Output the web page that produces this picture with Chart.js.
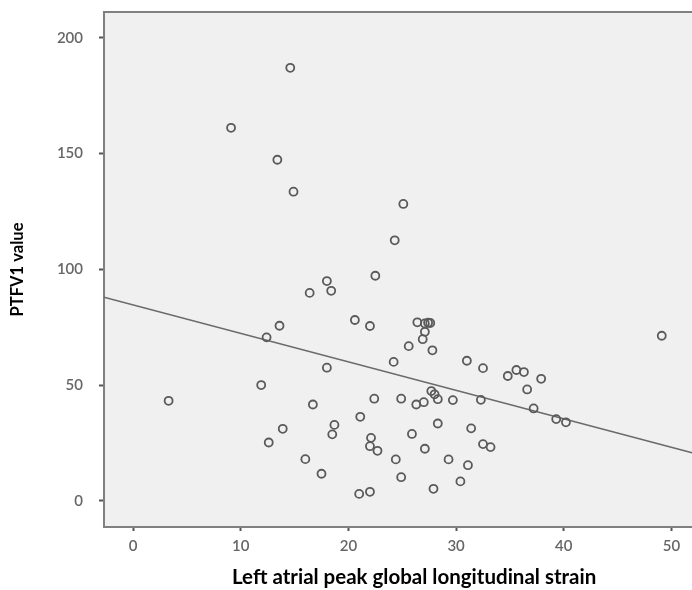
<!DOCTYPE html>
<html>
<head>
<meta charset="utf-8">
<script src="https://cdn.jsdelivr.net/npm/chart.js@4/dist/chart.umd.min.js"></script>
<style>
  html, body { margin: 0; padding: 0; background: #ffffff; overflow: hidden; }
  #wrap { width: 730px; height: 590px; }
</style>
</head>
<body>
<div id="wrap"><canvas id="c" width="730" height="590"></canvas></div>
<script>
// Scatter data: left atrial peak global longitudinal strain (x) vs PTFV1 value (y)
const strainValues = [
  3.3, 9.1, 11.9, 12.4, 12.6, 13.4, 13.6, 13.9, 14.6, 14.9,
  16.0, 16.4, 16.7, 17.5, 18.0, 18.0, 18.4, 18.5, 18.7, 20.6,
  21.0, 21.1, 22.0, 22.0, 22.0, 22.1, 22.4, 22.5, 22.7, 24.2,
  24.3, 24.4, 24.9, 24.9, 25.1, 25.6, 25.9, 26.3, 26.4, 26.9,
  27.0, 27.1, 27.1, 27.1, 27.4, 27.6, 27.7, 27.8, 27.9, 28.0,
  28.3, 28.3, 29.3, 29.7, 30.4, 31.0, 31.1, 31.4, 32.3, 32.5,
  32.5, 33.2, 34.8, 35.6, 36.3, 36.6, 37.2, 37.9, 39.3, 40.2,
  49.1
];
const ptfv1Values = [
  43.2, 161.1, 50.0, 70.6, 25.2, 147.3, 75.6, 31.1, 187.0, 133.5,
  18.0, 89.8, 41.6, 11.7, 94.9, 57.5, 90.7, 28.7, 32.8, 78.1,
  3.0, 36.3, 75.5, 3.9, 23.6, 27.2, 44.1, 97.2, 21.6, 60.0,
  112.5, 17.9, 44.1, 10.2, 128.2, 66.8, 28.9, 41.6, 77.1, 69.8,
  42.6, 73.0, 22.5, 76.6, 76.9, 76.8, 47.4, 65.0, 5.2, 46.0,
  43.9, 33.4, 17.9, 43.5, 8.4, 60.5, 15.4, 31.3, 43.6, 57.3,
  24.5, 23.2, 53.9, 56.5, 55.6, 48.1, 39.9, 52.7, 35.3, 33.9,
  71.3
];
// Fit line, read at the two ends of the x range
const fitLineX = [-2.7, 54.9];
const fitLineY = [87.9, 17.1];

const xTicks = [0, 10, 20, 30, 40, 50];
const yTicks = [0, 50, 100, 150, 200];
const xTitle = 'Left atrial peak global longitudinal strain';
const yTitle = 'PTFV1 value';

const points = strainValues.map((x, i) => ({ x: x, y: ptfv1Values[i] }));
const fitPoints = fitLineX.map((x, i) => ({ x: x, y: fitLineY[i] }));

const frameColor = '#808080';

const plotBg = {
  id: 'plotBg',
  beforeDraw(chart) {
    const a = chart.chartArea, ctx = chart.ctx;
    ctx.save();
    ctx.fillStyle = '#f0f0f0';
    ctx.fillRect(a.left, a.top, a.right - a.left, a.bottom - a.top);
    ctx.restore();
  },
  afterDatasetsDraw(chart) {
    const a = chart.chartArea, ctx = chart.ctx;
    ctx.save();
    ctx.strokeStyle = frameColor;
    ctx.lineWidth = 2;
    ctx.beginPath();
    ctx.moveTo(a.left, a.top);
    ctx.lineTo(a.right, a.top);
    ctx.lineTo(a.right, a.bottom);
    ctx.stroke();
    ctx.restore();
  }
};

const tickFont = { family: 'Lato, "Open Sans", sans-serif', size: 15, weight: '600' };
const xTitleFont = { family: 'Lato, "Open Sans", sans-serif', size: 20.5, weight: 'bold' };
const yTitleFont = { family: 'Lato, "Open Sans", sans-serif', size: 16.6, weight: 'bold' };

new Chart(document.getElementById('c'), {
  type: 'scatter',
  data: {
    datasets: [
      {
        type: 'line',
        data: fitPoints,
        borderColor: '#6a6a6a',
        borderWidth: 1.6,
        pointRadius: 0,
        fill: false,
        tension: 0,
        order: 2
      },
      {
        type: 'scatter',
        data: points,
        pointStyle: 'circle',
        pointRadius: 4,
        pointBorderWidth: 1.8,
        borderColor: '#5a5a5a',
        backgroundColor: 'rgba(0,0,0,0)',
        pointBackgroundColor: 'rgba(0,0,0,0)',
        order: 1
      }
    ]
  },
  options: {
    responsive: false,
    animation: false,
    layout: { padding: { left: 0, right: 4, top: 12, bottom: 0 } },
    plugins: { legend: { display: false }, tooltip: { enabled: false } },
    scales: {
      x: {
        type: 'linear',
        min: -2.7,
        max: 54.9,
        afterBuildTicks: (s) => { s.ticks = xTicks.map(v => ({ value: v })); },
        afterFit: (s) => { s.height = 63; s.paddingLeft = 0; s.paddingRight = 0; },
        border: { display: true, color: frameColor, width: 2 },
        grid: { drawOnChartArea: false, drawTicks: true, tickLength: 4, tickWidth: 2, tickColor: '#555' },
        ticks: { font: tickFont, color: '#666', padding: 6, maxRotation: 0 },
        title: { display: true, text: xTitle, font: xTitleFont, color: '#000', padding: { top: 0, bottom: 0 } }
      },
      y: {
        type: 'linear',
        min: -11.3,
        max: 211.1,
        afterBuildTicks: (s) => { s.ticks = yTicks.map(v => ({ value: v })); },
        afterFit: (s) => { s.width = 104; s.paddingTop = 0; s.paddingBottom = 0; },
        border: { display: true, color: frameColor, width: 2 },
        grid: { drawOnChartArea: false, drawTicks: true, tickLength: 5, tickWidth: 2, tickColor: '#555' },
        ticks: { font: tickFont, color: '#666', padding: 16 },
        title: { display: true, text: yTitle, font: yTitleFont, color: '#000', padding: { top: 8, bottom: 0 } }
      }
    }
  },
  plugins: [plotBg]
});
</script>
</body>
</html>
